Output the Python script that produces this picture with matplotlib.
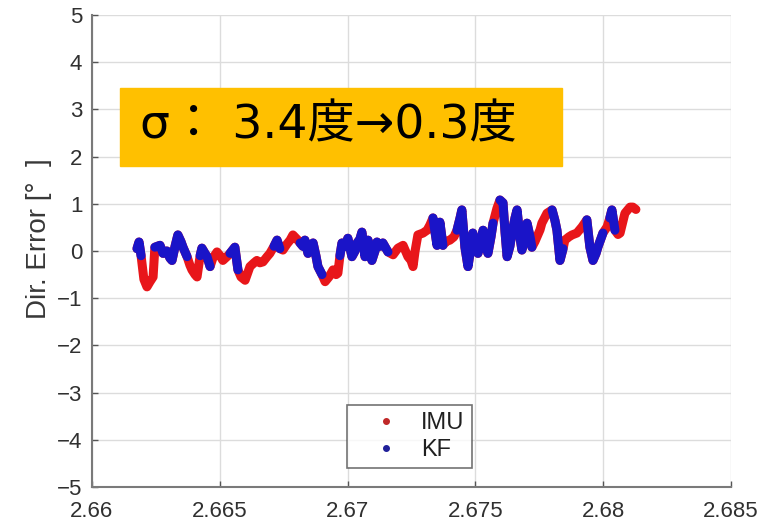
import numpy as np
import matplotlib
matplotlib.use("Agg")
import matplotlib.pyplot as plt
from matplotlib.lines import Line2D

# ---- data ----
imu_t = [2.66176, 2.66184, 2.66192, 2.66203, 2.66215, 2.66227, 2.66239, 2.66246, 2.66266, 2.66278,
         2.66293, 2.66305, 2.66313, 2.66325, 2.66336, 2.66348, 2.66356, 2.66372, 2.66383, 2.66391,
         2.66403, 2.66411, 2.66423, 2.66430, 2.66442, 2.66450, 2.66462, 2.66473, 2.66489, 2.66501,
         2.66512, 2.66528, 2.66540, 2.66559, 2.66571, 2.66583, 2.66599, 2.66618, 2.66634, 2.66645,
         2.66657, 2.66669, 2.66685, 2.66696, 2.66712, 2.66724, 2.66735, 2.66747, 2.66763, 2.66775,
         2.66786, 2.66802, 2.66814, 2.66825, 2.66833, 2.66845, 2.66857, 2.66865, 2.66876, 2.66884,
         2.66900, 2.66912, 2.66927, 2.66943, 2.66955, 2.66962, 2.66970, 2.66978, 2.66990, 2.67001,
         2.67017, 2.67029, 2.67037, 2.67048, 2.67056, 2.67068, 2.67080, 2.67095, 2.67107, 2.67115,
         2.67127, 2.67138, 2.67158, 2.67178, 2.67197, 2.67217, 2.67236, 2.67248, 2.67256, 2.67264,
         2.67275, 2.67295, 2.67311, 2.67322, 2.67334, 2.67342, 2.67350, 2.67361, 2.67373, 2.67385,
         2.67400, 2.67416, 2.67428, 2.67440, 2.67447, 2.67459, 2.67471, 2.67483, 2.67490, 2.67502,
         2.67510, 2.67522, 2.67530, 2.67541, 2.67549, 2.67561, 2.67569, 2.67584, 2.67596, 2.67608,
         2.67616, 2.67624, 2.67635, 2.67643, 2.67655, 2.67663, 2.67674, 2.67682, 2.67694, 2.67702,
         2.67714, 2.67721, 2.67733, 2.67741, 2.67753, 2.67760, 2.67780, 2.67800, 2.67811, 2.67819,
         2.67831, 2.67843, 2.67850, 2.67866, 2.67878, 2.67897, 2.67917, 2.67936, 2.67948, 2.67960,
         2.67972, 2.67979, 2.67999, 2.68015, 2.68026, 2.68034, 2.68046, 2.68058, 2.68066, 2.68085,
         2.68105, 2.68116, 2.68128]
imu_err = [0.05, 0.19, -0.10, -0.60, -0.76, -0.65, -0.55, 0.08, 0.12, -0.05,
           0.00, -0.15, -0.20, 0.10, 0.34, 0.20, 0.08, -0.12, -0.30, -0.40,
           -0.50, -0.55, -0.10, 0.06, -0.05, -0.12, -0.33, -0.15, -0.02, -0.10,
           -0.20, -0.12, -0.05, 0.08, -0.40, -0.55, -0.62, -0.33, -0.25, -0.20,
           -0.25, -0.23, -0.12, -0.05, 0.10, 0.23, 0.05, 0.02, 0.15, 0.23,
           0.34, 0.25, 0.17, 0.10, 0.23, -0.05, 0.05, 0.17, -0.10, -0.33,
           -0.50, -0.65, -0.55, -0.40, -0.50, -0.47, -0.10, 0.17, 0.10, 0.27,
           -0.12, 0.00, 0.17, 0.25, 0.40, -0.12, 0.23, -0.20, 0.00, 0.19,
           0.10, 0.17, -0.02, -0.08, 0.06, 0.12, -0.12, -0.20, -0.33, 0.00,
           0.34, 0.38, 0.44, 0.55, 0.70, 0.40, 0.12, 0.61, 0.12, 0.20,
           0.23, 0.30, 0.44, 0.70, 0.87, 0.08, -0.33, 0.10, 0.38, 0.10,
           -0.05, 0.20, 0.44, 0.10, -0.05, 0.30, 0.59, 0.90, 1.08, 1.02,
           0.40, -0.12, 0.10, 0.38, 0.70, 0.87, 0.30, 0.02, 0.30, 0.59,
           0.30, 0.08, 0.20, 0.30, 0.45, 0.59, 0.80, 0.87, 0.65, 0.44,
           -0.20, 0.05, 0.23, 0.30, 0.34, 0.38, 0.51, 0.66, 0.08, -0.20,
           -0.05, 0.08, 0.38, 0.51, 0.70, 0.87, 0.44, 0.35, 0.38, 0.80,
           0.93, 0.93, 0.88]

nan = float("nan")
kf_t = [2.66176, 2.66184, 2.66192, nan,
        2.66246, 2.66266, 2.66278, 2.66293, 2.66305, 2.66313, 2.66325, 2.66336, 2.66348, 2.66356, 2.66372, nan,
        2.66423, 2.66430, 2.66442, 2.66450, 2.66462, nan,
        2.66540, 2.66559, 2.66571, nan,
        2.66712, 2.66724, 2.66735, nan,
        2.66814, 2.66825, 2.66833, 2.66845, 2.66857, 2.66865, 2.66876, 2.66884, 2.66900, nan,
        2.66970, 2.66978, 2.66990, 2.67001, 2.67017, 2.67029, 2.67037, 2.67048, 2.67056, 2.67068,
        2.67080, 2.67095, 2.67107, 2.67115, 2.67127, 2.67138, 2.67158, nan,
        2.67334, 2.67342, 2.67350, 2.67361, 2.67373, nan,
        2.67428, 2.67440, 2.67447, 2.67459, 2.67471, 2.67483, 2.67490, 2.67502, 2.67510, 2.67522,
        2.67530, 2.67541, 2.67549, 2.67561, 2.67569, nan,
        2.67596, 2.67608, 2.67616, 2.67624, 2.67635, 2.67643, 2.67655, 2.67663, 2.67674, 2.67682,
        2.67694, 2.67702, 2.67714, 2.67721, nan,
        2.67800, 2.67811, 2.67819, 2.67831, 2.67843, nan,
        2.67936, 2.67948, 2.67960, 2.67972, 2.67979, 2.67999, nan,
        2.68026, 2.68034, 2.68046]
kf_err = [0.05, 0.19, -0.10, nan,
          0.08, 0.12, -0.05, 0.00, -0.15, -0.20, 0.10, 0.34, 0.20, 0.08, -0.12, nan,
          -0.10, 0.06, -0.05, -0.12, -0.33, nan,
          -0.05, 0.08, -0.40, nan,
          0.10, 0.23, 0.05, nan,
          0.17, 0.10, 0.23, -0.05, 0.05, 0.17, -0.10, -0.33, -0.50, nan,
          -0.10, 0.17, 0.10, 0.27, -0.12, 0.00, 0.17, 0.25, 0.40, -0.12,
          0.23, -0.20, 0.00, 0.19, 0.10, 0.17, -0.02, nan,
          0.70, 0.40, 0.12, 0.61, 0.12, nan,
          0.44, 0.70, 0.87, 0.08, -0.33, 0.10, 0.38, 0.10, -0.05, 0.20,
          0.44, 0.10, -0.05, 0.30, 0.59, nan,
          1.08, 1.02, 0.40, -0.12, 0.10, 0.38, 0.70, 0.87, 0.30, 0.02,
          0.30, 0.59, 0.30, 0.08, nan,
          0.87, 0.65, 0.44, -0.20, 0.05, nan,
          0.66, 0.08, -0.20, -0.05, 0.08, 0.38, nan,
          0.70, 0.87, 0.44]

x_ticks = [2.66, 2.665, 2.67, 2.675, 2.68, 2.685]
x_ticklabels = ["2.66", "2.665", "2.67", "2.675", "2.68", "2.685"]
y_ticks = [-5, -4, -3, -2, -1, 0, 1, 2, 3, 4, 5]
y_ticklabels = ["\u22125", "\u22124", "\u22123", "\u22122", "\u22121", "0", "1", "2", "3", "4", "5"]
series_names = ["IMU", "KF"]
y_label = "Dir. Error [°  ]"
annotation = "σ： 3.4度→0.3度"

# ---- figure ----
plt.rcParams["font.family"] = ["Liberation Sans", "DejaVu Sans"]
fig = plt.figure(figsize=(7.72, 5.22), dpi=100)
ax = fig.add_axes([92 / 772, 35 / 522, 639 / 772, 472 / 522])

red = "#e8161a"
blue = "#1a14c8"
ax.plot(imu_t, imu_err, color=red, lw=6.5, solid_joinstyle="round", solid_capstyle="round", zorder=3)
ax.plot(kf_t, kf_err, color=blue, lw=6.5, solid_joinstyle="round", solid_capstyle="round", zorder=4)

ax.set_xlim(2.66, 2.685)
ax.set_ylim(-5, 5)
ax.set_xticks(x_ticks)
ax.set_xticklabels(x_ticklabels)
ax.set_yticks(y_ticks)
ax.set_yticklabels(y_ticklabels)
ax.grid(True, color="#dcdcdc", lw=1)
ax.set_axisbelow(True)
for s in ["top", "right"]:
    ax.spines[s].set_visible(False)
for s in ["left", "bottom"]:
    ax.spines[s].set_color("#7a7a7a")
    ax.spines[s].set_linewidth(1.5)
ax.tick_params(direction="in", length=4, width=1, color="#555555",
               labelsize=16, labelcolor="#303030", pad=7)
ax.tick_params(axis="x", pad=10)

ax.set_ylabel(y_label, fontsize=20, color="#383838")
ax.yaxis.set_label_coords(-0.062, 0.527)

handles = [Line2D([], [], color="#c02828", marker=".", ls="none", markersize=8),
           Line2D([], [], color="#20209a", marker=".", ls="none", markersize=8)]
leg = ax.legend(handles, series_names, loc="lower left", bbox_to_anchor=(0.399, 0.040),
                fontsize=17, frameon=True, fancybox=False, edgecolor="#505050",
                handlelength=2.7, handletextpad=0.15, borderpad=0.3, labelspacing=0.2,
                borderaxespad=0)
leg.get_frame().set_linewidth(1.2)
for t in leg.get_texts():
    t.set_color("#202020")

# annotation box
fig.patches.append(plt.Rectangle((120 / 772, 1 - 166 / 522), 442 / 772, 78 / 522,
                                 transform=fig.transFigure, color="#ffc000", zorder=5))
fig.text(140 / 772, 1 - 138 / 522, annotation, fontsize=34, va="baseline", ha="left",
         family=["DejaVu Sans", "Noto Sans CJK JP"], color="#000000", zorder=6)

fig.savefig("out.png", dpi=100)
